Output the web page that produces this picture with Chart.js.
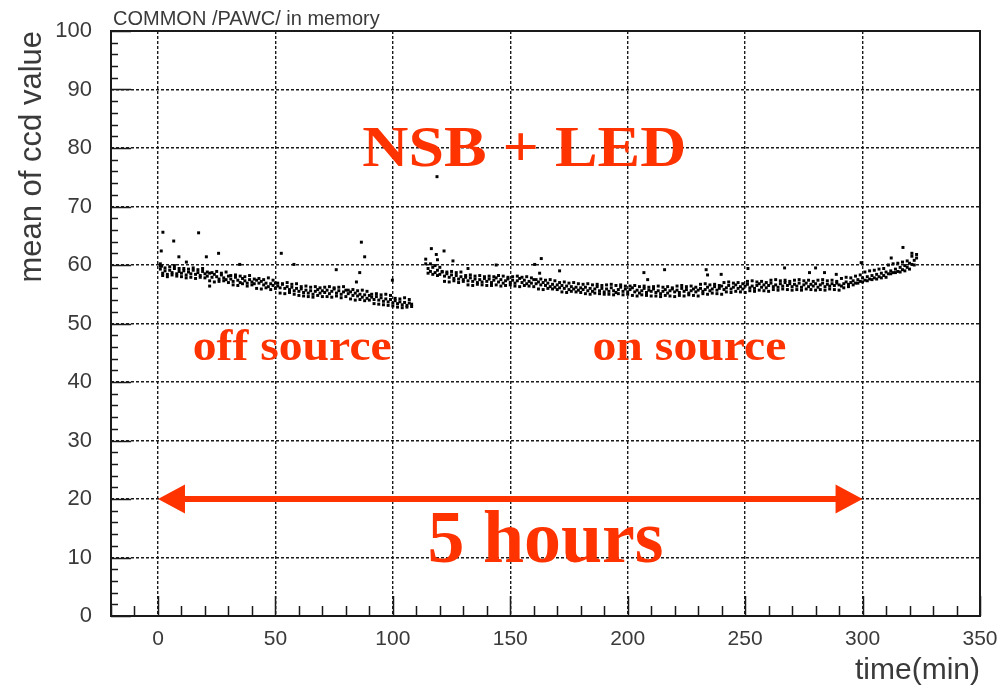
<!DOCTYPE html>
<html>
<head>
<meta charset="utf-8">
<script src="https://cdn.jsdelivr.net/npm/chart.js@4.4.1/dist/chart.umd.min.js"></script>
<style>
  html, body { margin: 0; padding: 0; background: #fff; }
  #wrap { width: 1002px; height: 687px; }
</style>
</head>
<body>
<div id="wrap"><canvas id="ccd" width="1002" height="687"></canvas></div>
<script>
// mean ccd value, two readings per minute (A and B)
const offSourceTime = [
  1, 2, 3, 4, 5, 6, 7, 8, 9, 10, 11, 12, 13, 14, 15, 16, 17, 18, 19, 20,
  21, 22, 23, 24, 25, 26, 27, 28, 29, 30, 31, 32, 33, 34, 35, 36, 37, 38, 39, 40,
  41, 42, 43, 44, 45, 46, 47, 48, 49, 50, 51, 52, 53, 54, 55, 56, 57, 58, 59, 60,
  61, 62, 63, 64, 65, 66, 67, 68, 69, 70, 71, 72, 73, 74, 75, 76, 77, 78, 79, 80,
  81, 82, 83, 84, 85, 86, 87, 88, 89, 90, 91, 92, 93, 94, 95, 96, 97, 98, 99, 100,
  101, 102, 103, 104, 105, 106, 107, 108
];
const offSourceMeanA = [
  59.3, 58.6, 59.0, 58.4, 59.1, 58.7, 59.4, 58.5, 58.9, 58.6,
  59.0, 58.3, 58.8, 58.5, 59.1, 58.4, 58.7, 58.2, 58.9, 58.5,
  58.1, 58.6, 57.9, 58.4, 58.0, 57.6, 58.3, 57.8, 57.5, 58.1,
  57.6, 57.2, 57.9, 57.4, 57.0, 57.7, 57.3, 56.9, 57.5, 57.1,
  56.8, 57.4, 56.9, 57.2, 56.6, 56.9, 56.3, 56.8, 56.5, 56.9,
  56.4, 56.1, 56.7, 56.0, 56.3, 55.8, 56.2, 55.6, 56.0, 55.5,
  55.9, 55.3, 55.7, 55.2, 55.6, 55.0, 55.5, 55.8, 55.2, 55.6,
  55.3, 55.7, 55.1, 55.5, 55.9, 55.2, 55.6, 55.0, 55.4, 55.7,
  55.1, 55.4, 54.8, 55.2, 54.7, 55.0, 54.5, 54.9, 54.3, 54.8,
  54.5, 54.1, 54.6, 54.0, 54.4, 53.8, 54.2, 53.7, 54.1, 53.5,
  53.9, 53.4, 53.7, 53.2, 53.6, 53.1, 53.5, 53.3
];
const offSourceMeanB = [
  59.8, 58.2, 59.5, 58.0, 59.7, 58.3, 59.9, 58.1, 59.4, 58.0,
  59.4, 57.8, 59.3, 57.9, 59.5, 57.7, 59.2, 57.9, 59.4, 57.8,
  58.8, 57.3, 58.7, 57.1, 58.9, 57.2, 58.6, 57.3, 58.8, 57.0,
  58.2, 56.6, 58.3, 56.5, 58.1, 56.8, 58.0, 56.4, 58.2, 56.6,
  57.6, 56.0, 57.7, 55.9, 57.5, 56.1, 57.8, 55.8, 57.4, 56.0,
  56.9, 55.2, 56.8, 55.1, 57.0, 55.3, 56.7, 55.0, 56.8, 54.8,
  56.3, 54.7, 56.4, 54.6, 56.2, 54.5, 56.3, 54.8, 56.1, 54.6,
  56.2, 54.6, 56.3, 54.5, 56.1, 54.7, 56.2, 54.4, 56.3, 54.6,
  55.7, 54.2, 55.8, 54.0, 55.6, 54.1, 55.7, 53.9, 55.5, 54.0,
  55.0, 53.4, 55.1, 53.3, 54.9, 53.2, 55.0, 53.1, 54.8, 53.0,
  54.3, 52.8, 54.2, 52.7, 54.4, 52.8, 54.1, 52.9
];
const onSourceTime = [
  114, 115, 116, 117, 118, 119, 120,
  121, 122, 123, 124, 125, 126, 127, 128, 129, 130, 131, 132, 133, 134, 135, 136, 137, 138, 139, 140,
  141, 142, 143, 144, 145, 146, 147, 148, 149, 150, 151, 152, 153, 154, 155, 156, 157, 158, 159, 160,
  161, 162, 163, 164, 165, 166, 167, 168, 169, 170, 171, 172, 173, 174, 175, 176, 177, 178, 179, 180,
  181, 182, 183, 184, 185, 186, 187, 188, 189, 190, 191, 192, 193, 194, 195, 196, 197, 198, 199, 200,
  201, 202, 203, 204, 205, 206, 207, 208, 209, 210, 211, 212, 213, 214, 215, 216, 217, 218, 219, 220,
  221, 222, 223, 224, 225, 226, 227, 228, 229, 230, 231, 232, 233, 234, 235, 236, 237, 238, 239, 240,
  241, 242, 243, 244, 245, 246, 247, 248, 249, 250, 251, 252, 253, 254, 255, 256, 257, 258, 259, 260,
  261, 262, 263, 264, 265, 266, 267, 268, 269, 270, 271, 272, 273, 274, 275, 276, 277, 278, 279, 280,
  281, 282, 283, 284, 285, 286, 287, 288, 289, 290, 291, 292, 293, 294, 295, 296, 297, 298, 299, 300,
  301, 302, 303, 304, 305, 306, 307, 308, 309, 310, 311, 312, 313, 314, 315, 316, 317, 318, 319, 320,
  321, 322, 323
];
const onSourceMeanA = [
  60.2, 59.4, 58.9, 59.6, 58.7, 59.1, 58.4,
  58.8, 58.1, 58.5, 57.9, 58.3, 57.7, 58.2, 57.6, 58.0, 57.5,
  57.9, 57.3, 57.8, 57.2, 57.6, 57.0, 57.5, 57.1, 57.7, 57.2,
  57.6, 57.0, 57.4, 57.8, 57.1, 57.5, 56.9, 57.3, 57.6, 57.0,
  57.4, 56.9, 57.3, 57.7, 57.0, 57.4, 56.8, 57.2, 56.9, 57.5,
  56.8, 57.1, 56.6, 57.0, 56.5, 56.9, 56.3, 56.7, 56.2, 56.6,
  56.1, 56.5, 56.0, 56.4, 55.8, 56.3, 55.9, 56.2, 55.7, 56.1,
  55.8, 56.2, 55.6, 56.0, 55.5, 55.9, 56.3, 55.6, 56.0, 55.4,
  55.9, 55.5, 56.1, 55.6, 55.3, 55.8, 56.2, 55.5, 55.9, 55.4,
  55.8, 56.1, 55.4, 55.7, 55.2, 55.6, 56.0, 55.3, 55.7, 55.5,
  55.9, 55.3, 55.6, 55.1, 55.5, 55.8, 55.2, 55.6, 55.9, 55.4,
  55.7, 55.3, 56.0, 55.5, 55.8, 55.2, 55.6, 55.9, 55.4, 55.7,
  56.0, 55.5, 55.8, 56.2, 55.6, 55.9, 56.3, 55.7, 56.0, 56.4,
  55.8, 56.1, 56.5, 55.9, 56.2, 56.6, 56.0, 56.3, 55.9, 56.4,
  56.7, 56.1, 56.4, 56.0, 56.5, 56.8, 56.2, 56.6, 56.1, 56.5,
  56.9, 56.3, 56.6, 56.2, 56.8, 56.4, 57.0, 56.5, 56.8, 56.3,
  56.7, 56.4, 56.9, 56.2, 56.6, 56.9, 56.3, 56.7, 56.4, 56.8,
  56.2, 56.6, 56.9, 56.3, 56.7, 56.4, 56.8, 56.5, 56.9, 56.6,
  56.4, 56.8, 57.1, 56.7, 57.0, 57.3, 56.9, 57.5, 57.2, 57.8,
  57.4, 58.0, 57.6, 58.2, 57.8, 58.4, 58.0, 58.6, 58.2, 58.8,
  58.5, 59.0, 58.7, 59.3, 58.9, 59.6, 59.2, 59.9, 59.6, 60.3,
  60.1, 60.8, 61.2
];
const onSourceMeanB = [
  61.0, 58.6, 60.2, 58.4, 59.9, 58.2, 59.6,
  58.9, 57.2, 58.8, 57.1, 58.9, 57.3, 58.7, 57.0, 58.8, 57.2,
  58.2, 56.6, 58.3, 56.5, 58.1, 56.7, 58.2, 56.6, 58.0, 56.5,
  58.1, 56.5, 58.0, 56.6, 58.2, 56.4, 58.1, 56.5, 57.9, 56.6,
  58.0, 56.4, 58.1, 56.3, 57.9, 56.5, 58.0, 56.4, 57.8, 56.3,
  57.5, 55.9, 57.6, 55.8, 57.4, 56.0, 57.5, 55.9, 57.3, 55.8,
  57.0, 55.4, 57.1, 55.3, 56.9, 55.5, 57.0, 55.4, 56.8, 55.3,
  56.7, 55.1, 56.8, 55.0, 56.6, 55.2, 56.7, 55.1, 56.5, 55.0,
  56.6, 55.0, 56.7, 54.9, 56.5, 55.1, 56.6, 54.9, 56.4, 55.0,
  56.4, 54.8, 56.5, 54.7, 56.3, 54.9, 56.4, 54.8, 56.2, 54.7,
  56.3, 54.7, 56.4, 54.6, 56.2, 54.8, 56.3, 54.7, 56.1, 54.6,
  56.4, 54.8, 56.5, 54.7, 56.3, 54.9, 56.4, 54.8, 56.2, 54.7,
  56.7, 55.1, 56.8, 55.0, 56.6, 55.2, 56.7, 55.1, 56.5, 55.0,
  57.0, 55.4, 57.1, 55.3, 56.9, 55.5, 57.0, 55.4, 56.8, 55.3,
  57.2, 55.6, 57.3, 55.5, 57.1, 55.7, 57.2, 55.6, 57.0, 55.5,
  57.4, 55.8, 57.5, 55.7, 57.3, 55.9, 57.4, 55.8, 57.2, 55.7,
  57.4, 55.8, 57.5, 55.7, 57.3, 55.9, 57.4, 55.8, 57.2, 55.7,
  57.4, 55.8, 57.5, 55.7, 57.3, 55.9, 57.4, 55.8, 57.2, 55.7,
  57.7, 56.1, 57.9, 56.3, 57.8, 56.6, 58.1, 56.9, 58.3, 57.1,
  58.8, 57.3, 59.0, 57.5, 59.1, 57.6, 59.3, 57.8, 59.4, 57.9,
  60.0, 58.5, 60.2, 58.7, 60.3, 58.8, 60.5, 59.0, 60.7, 59.3,
  61.5, 60.0, 61.8
];
// readings that fall away from the main band
const strayTime = [
  1.0, 1.4, 1.5, 2.1, 6.7, 8.9, 12.1, 17.3, 20.6, 22.0, 25.8, 34.8, 52.5, 57.9,
  75.9, 84.5, 85.9, 86.6, 88.0, 99.8, 116.4, 118.5, 118.8, 119.0, 121.8, 125.6,
  132.0, 144.0, 160.4, 162.5, 163.2, 171.0, 206.9, 208.5, 215.7, 233.4, 234.0,
  239.8, 251.2, 266.8, 277.4, 280.0, 283.8, 288.8, 299.4, 312.2, 317.2, 321.0
];
const strayMean = [
  60.2, 62.4, 59.8, 65.6, 64.1, 61.4, 60.5, 65.5, 61.4, 56.4, 62.0, 60.1, 62.0, 60.1,
  59.2, 57.1, 58.7, 63.9, 61.4, 57.4, 62.8, 61.8, 75.1, 60.9, 62.4, 60.7,
  59.4, 60.0, 60.1, 58.6, 61.1, 59.0, 58.7, 57.5, 59.2, 59.2, 58.3,
  58.4, 59.4, 59.5, 58.7, 59.5, 58.7, 58.4, 60.4, 61.2, 63.0, 62.0
];

const xTickValues = [0, 50, 100, 150, 200, 250, 300, 350];
const yTickValues = [0, 10, 20, 30, 40, 50, 60, 70, 80, 90, 100];

const Colors = {
  ink: '#000000',
  grid: '#1a1a1a',
  frame: '#1a1a1a',
  label: '#3a3a3a',
  accent: '#ff3300'
};
const SANS = "'Liberation Sans', Arial, Helvetica, sans-serif";
const SERIF = "'Liberation Serif', 'Times New Roman', serif";

const toPoints = (xs, ys) => xs.map((t, i) => ({ x: t, y: ys[i] }));

// inward minor/major ticks plus the closed frame around the plot
const frameTicks = {
  id: 'frameTicks',
  beforeDatasetsDraw(chart) {
    const { ctx, chartArea: a, scales: { x, y } } = chart;
    ctx.save();
    ctx.strokeStyle = Colors.frame;
    ctx.lineWidth = 1.5;
    ctx.beginPath();
    for (let v = -20; v <= 350; v += 10) {
      const px = Math.round(x.getPixelForValue(v)) + 0.5;
      const len = v % 50 === 0 ? 20 : 10;
      ctx.moveTo(px, a.bottom);
      ctx.lineTo(px, a.bottom - len);
    }
    for (let v = 0; v <= 100; v += 2) {
      const py = Math.round(y.getPixelForValue(v)) + 0.5;
      const len = v % 10 === 0 ? 20 : 7;
      ctx.moveTo(a.left, py);
      ctx.lineTo(a.left + len, py);
    }
    ctx.stroke();
    ctx.lineWidth = 2;
    ctx.strokeRect(a.left, a.top, a.right - a.left, a.bottom - a.top);

    ctx.fillStyle = Colors.label;
    ctx.font = '20px ' + SANS;
    ctx.textBaseline = 'alphabetic';
    ctx.fillText('COMMON /PAWC/ in memory', a.left + 2, a.top - 6);
    ctx.restore();
  }
};

// text squeezed or widened to a set width
function fitText(ctx, text, x, y, width) {
  const w = ctx.measureText(text).width;
  ctx.save();
  ctx.translate(x, y);
  ctx.scale(width / w, 1);
  ctx.fillText(text, 0, 0);
  ctx.restore();
}

const notes = [
  { text: 'NSB + LED', t: 87, v: 76.9, size: 58, width: 324 },
  { text: 'off source', t: 14.8, v: 43.8, size: 45, width: 199 },
  { text: 'on source', t: 185, v: 43.8, size: 45, width: 194 },
  { text: '5 hours', t: 114.8, v: 9.2, size: 74, width: 236 }
];
const span = { from: 0, to: 300, level: 20 };

const annotations = {
  id: 'annotations',
  afterDraw(chart) {
    const { ctx, scales: { x, y } } = chart;
    ctx.save();
    ctx.fillStyle = Colors.accent;
    ctx.strokeStyle = Colors.accent;
    ctx.textBaseline = 'alphabetic';
    notes.forEach(n => {
      ctx.font = 'bold ' + n.size + 'px ' + SERIF;
      fitText(ctx, n.text, x.getPixelForValue(n.t), y.getPixelForValue(n.v), n.width);
    });

    // double headed arrow across the five hours
    const x0 = x.getPixelForValue(span.from);
    const x1 = x.getPixelForValue(span.to);
    const py = y.getPixelForValue(span.level);
    const head = 27, half = 14.5;
    ctx.lineWidth = 6;
    ctx.beginPath();
    ctx.moveTo(x0 + head - 2, py);
    ctx.lineTo(x1 - head + 2, py);
    ctx.stroke();
    ctx.beginPath();
    ctx.moveTo(x0, py);
    ctx.lineTo(x0 + head, py - half);
    ctx.lineTo(x0 + head, py + half);
    ctx.closePath();
    ctx.moveTo(x1, py);
    ctx.lineTo(x1 - head, py - half);
    ctx.lineTo(x1 - head, py + half);
    ctx.closePath();
    ctx.fill();
    ctx.restore();
  }
};

const pointStyle = {
  showLine: false,
  pointStyle: 'rect',
  pointRadius: 2.1,
  pointBorderWidth: 0,
  backgroundColor: Colors.ink,
  borderColor: Colors.ink
};

new Chart(document.getElementById('ccd'), {
  type: 'scatter',
  data: {
    datasets: [
      { label: 'off source A', data: toPoints(offSourceTime, offSourceMeanA), ...pointStyle },
      { label: 'off source B', data: toPoints(offSourceTime, offSourceMeanB), ...pointStyle },
      { label: 'on source A', data: toPoints(onSourceTime, onSourceMeanA), ...pointStyle },
      { label: 'on source B', data: toPoints(onSourceTime, onSourceMeanB), ...pointStyle },
      { label: 'stray', data: toPoints(strayTime, strayMean), ...pointStyle }
    ]
  },
  options: {
    responsive: false,
    animation: false,
    layout: { padding: { top: 31, right: 22, bottom: 0, left: 0 } },
    plugins: {
      legend: { display: false },
      tooltip: { enabled: false }
    },
    scales: {
      x: {
        type: 'linear',
        min: -20,
        max: 350,
        afterBuildTicks: s => { s.ticks = xTickValues.map(v => ({ value: v })); },
        afterFit: s => {
          s.height = 71;
          s.paddingLeft = 0;
          s.paddingRight = 0;
        },
        grid: { color: Colors.grid, lineWidth: 1.4, drawTicks: false },
        border: { display: false, dash: [3, 2] },
        ticks: {
          color: Colors.label,
          font: { family: SANS, size: 21 },
          padding: 11,
          maxRotation: 0,
          autoSkip: false
        },
        title: {
          display: true,
          text: 'time(min)',
          align: 'end',
          color: Colors.label,
          font: { family: SANS, size: 30, lineHeight: 1 },
          padding: { top: 0, bottom: 1 }
        }
      },
      y: {
        min: 0,
        max: 100,
        afterBuildTicks: s => { s.ticks = yTickValues.map(v => ({ value: v })); },
        afterFit: s => {
          s.width = 111;
          s.paddingTop = 0;
          s.paddingBottom = 0;
        },
        grid: { color: Colors.grid, lineWidth: 1.4, drawTicks: false },
        border: { display: false, dash: [3, 2] },
        ticks: {
          color: Colors.label,
          font: { family: SANS, size: 22 },
          padding: 19
        },
        title: {
          display: true,
          text: 'mean of ccd value',
          align: 'end',
          color: Colors.label,
          font: { family: SANS, size: 31, lineHeight: 1 },
          padding: { top: 17, bottom: 0 }
        }
      }
    }
  },
  plugins: [frameTicks, annotations]
});
</script>
</body>
</html>
